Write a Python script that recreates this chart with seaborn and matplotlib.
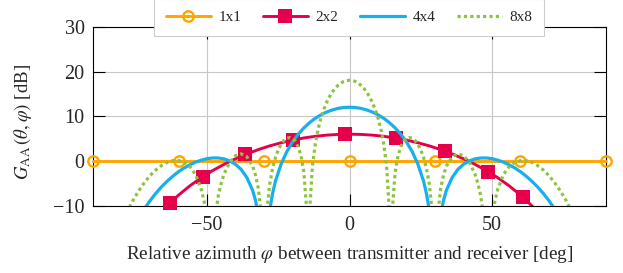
import matplotlib
matplotlib.use("Agg")
import matplotlib.pyplot as plt
import seaborn as sns
from matplotlib.lines import Line2D

# ---------------- data ----------------
# 1x1 array: flat 0 dB, circle markers every 30 deg
ang_1x1 = [-90, -60, -30, 0, 30, 60, 90]
gain_1x1 = [0, 0, 0, 0, 0, 0, 0]

# 2x2 array: smooth curve
ang_2x2 = [-66, -64, -62, -60, -56, -52, -48, -44, -40, -36, -32, -28, -24, -20, -16, -12, -8, -4,
           0, 4, 8, 12, 16, 20, 24, 28, 32, 36, 40, 44, 48, 52, 56, 60, 62, 64, 66]
gain_2x2 = [-11.33, -9.97, -8.72, -7.58, -5.49, -3.68, -2.09, -0.70, 0.54, 1.62, 2.58, 3.41, 4.11, 4.70,
            5.18, 5.55, 5.81, 5.97,
            6.02, 5.97, 5.81, 5.55, 5.18, 4.70, 4.11, 3.41, 2.58, 1.62, 0.54, -0.70, -2.09, -3.68,
            -5.49, -7.58, -8.72, -9.97, -11.33]
# 2x2 marker positions
ang_2x2_marks = [-63, -51.3, -36.7, -19.8, -1.6, 16.3, 33.5, 48.7, 60.8]
gain_2x2_marks = [-9.4, -3.5, 1.5, 4.7, 6.0, 5.15, 2.3, -2.4, -8.1]

# 4x4 array
ang_4x4 = [-90, -80, -76, -74, -72, -70, -68, -66, -64, -62, -60, -58, -56, -54, -52, -50, -48, -46,
           -44, -42, -40, -38, -36, -34, -33, -32, -31, -30, -29, -28, -27, -26, -24, -22, -20, -18,
           -16, -14, -12, -10, -8, -6, -4, -2,
           0, 2, 4, 6, 8, 10, 12, 14, 16, 18, 20, 22, 24, 26, 27, 28, 29, 30, 31, 32, 33, 34, 36,
           38, 40, 42, 44, 46, 48, 50, 52, 54, 56, 58, 60, 62, 64, 66, 68, 70, 72, 74, 76, 80, 90]
gain_4x4 = [-40, -20.4, -14.6, -12.35, -10.69, -8.83, -7.20, -5.75, -4.48, -3.35, -2.35, -1.51,
            -0.80, -0.22, 0.23, 0.56, 0.72, 0.71, 0.51, 0.05, -0.70, -1.86, -3.67, -6.50, -8.71,
            -11.96, -17.7, -40, -17.2, -10.97, -7.22, -4.49, -0.66, 2.13, 4.28, 6.01, 7.43, 8.60,
            9.57, 10.35, 10.97, 11.44, 11.78, 11.97,
            12.04, 11.97, 11.78, 11.44, 10.97, 10.35, 9.57, 8.60, 7.43, 6.01, 4.28, 2.13, -0.66,
            -4.49, -7.22, -10.97, -17.2, -40, -17.7, -11.96, -8.71, -6.50, -3.67, -1.86, -0.70,
            0.05, 0.51, 0.71, 0.72, 0.56, 0.23, -0.22, -0.80, -1.51, -2.35, -3.35, -4.48, -5.75,
            -7.20, -8.83, -10.69, -12.35, -14.6, -20.4, -40]

# 8x8 array
ang_8x8 = [-90, -84, -80, -78, -76, -74, -72, -70, -68, -66, -64, -62, -60, -58, -56, -54, -52,
           -51, -50, -48.6, -47, -46, -45, -44, -42, -40, -38, -36, -34, -33, -32, -31, -30, -29,
           -28, -27, -26, -25, -24, -23, -22, -21, -20, -19, -18, -17, -16, -15, -14.5, -14, -13,
           -12, -11, -10, -9, -8, -7, -6, -5, -4, -3, -2, -1,
           0, 1, 2, 3, 4, 5, 6, 7, 8, 9, 10, 11, 12, 13, 14, 14.5, 15, 16, 17, 18, 19, 20, 21, 22,
           23, 24, 25, 26, 27, 28, 29, 30, 31, 32, 33, 34, 36, 38, 40, 42, 44, 45, 46, 47, 48.6,
           50, 51, 52, 54, 56, 58, 60, 62, 64, 66, 68, 70, 72, 74, 76, 78, 80, 84, 90]
gain_8x8 = [-40, -23.2, -14.46, -11.30, -8.78, -6.65, -4.80, -3.23, -1.97, -0.98, -0.28, 0.11,
            0.14, -0.26, -1.23, -3.01, -6.30, -8.97, -13.40, -40, -11.93, -7.58, -4.84, -2.84,
            -0.18, 1.23, 1.63, 0.98, -1.11, -3.05, -6.09, -11.74, -40, -11.23, -5.10, -1.63, 0.78,
            2.55, 3.77, 4.63, 5.11, 5.26, 5.05, 4.44, 3.21, 1.13, -2.49, -11.09, -40, -11.26,
            -1.00, 3.92, 7.21, 9.66, 11.58, 13.13, 14.40, 15.44, 16.27, 16.94, 17.43, 17.79, 17.99,
            18.06, 17.99, 17.79, 17.43, 16.94, 16.27, 15.44, 14.40, 13.13, 11.58, 9.66, 7.21, 3.92,
            -1.00, -11.26, -40, -11.09, -2.49, 1.13, 3.21, 4.44, 5.05, 5.26, 5.11, 4.63, 3.77, 2.55,
            0.78, -1.63, -5.10, -11.23, -40, -11.74, -6.09, -3.05, -1.11, 0.98, 1.63, 1.23, -0.18,
            -2.84, -4.84, -7.58, -11.93, -40, -13.40, -8.97, -6.30, -3.01, -1.23, -0.26, 0.14, 0.11,
            -0.28, -0.98, -1.97, -3.23, -4.80, -6.65, -8.78, -11.30, -14.46, -23.2, -40]

labels = ["1x1", "2x2", "4x4", "8x8"]
x_ticks = [-50, 0, 50]
y_ticks = [-10, 0, 10, 20, 30]

# ---------------- style ----------------
C1, C2, C4, C8 = "#FFA500", "#E6004C", "#17AFEE", "#8CC43F"
sns.set_style("ticks")
plt.rcParams["font.family"] = ["Liberation Serif", "DejaVu Serif"]
plt.rcParams["mathtext.fontset"] = "stix"
plt.rcParams["axes.unicode_minus"] = True

fig = plt.figure(figsize=(6.23, 2.73), dpi=100)
ax = fig.add_axes([0.1493, 0.2454, 0.8234, 0.6568])

LW = 2.1
sns.lineplot(x=ang_1x1, y=gain_1x1, ax=ax, color=C1, lw=LW, marker="o", markersize=7.5,
             markerfacecolor="none", markeredgecolor=C1, markeredgewidth=1.7,
             estimator=None, sort=False, clip_on=False, zorder=3)
sns.lineplot(x=ang_2x2, y=gain_2x2, ax=ax, color=C2, lw=LW, estimator=None, sort=False, zorder=4)
sns.scatterplot(x=ang_2x2_marks, y=gain_2x2_marks, ax=ax, marker="s", s=90, color=C2,
                edgecolor=C2, linewidth=0, clip_on=False, zorder=4.5)
sns.lineplot(x=ang_4x4, y=gain_4x4, ax=ax, color=C4, lw=2.3, estimator=None, sort=False, zorder=5)
sns.lineplot(x=ang_8x8, y=gain_8x8, ax=ax, color=C8, lw=2.3, linestyle=(0, (1.0, 1.0)),
             estimator=None, sort=False, zorder=6)

ax.set_xlim(-90, 90)
ax.set_ylim(-10, 30)
ax.set_xticks(x_ticks)
ax.set_yticks(y_ticks)
ax.grid(True, color="#c8c8c8", lw=0.8)
ax.set_axisbelow(True)
for s in ax.spines.values():
    s.set_visible(True)
    s.set_color("black")
    s.set_linewidth(0.8)
ax.tick_params(direction="in", length=8.5, width=0.8, top=True, right=True,
               labelsize=14.5, pad=6, color="black")
ax.tick_params(axis="x", pad=7)

ax.set_xlabel(r"Relative azimuth $\varphi$ between transmitter and receiver [deg]",
              fontsize=13.8, labelpad=7)
ax.set_ylabel(r"$G_{\mathrm{AA}}\,(\theta,\varphi)$ [dB]", fontsize=13.5, labelpad=8)
ax.yaxis.set_label_coords(-0.115, 0.47)

handles = [
    Line2D([], [], color=C1, lw=LW, marker="o", markersize=7.5, markerfacecolor="none",
           markeredgecolor=C1, markeredgewidth=1.7),
    Line2D([], [], color=C2, lw=LW, marker="s", markersize=9.5, markeredgewidth=0),
    Line2D([], [], color=C4, lw=2.3),
    Line2D([], [], color=C8, lw=2.3, linestyle=(0, (1.0, 1.0))),
]
leg = ax.legend(handles, labels, loc="center", bbox_to_anchor=(0.499, 1.053), ncol=4,
                fontsize=11, frameon=True, fancybox=False, framealpha=1, edgecolor="#cccccc",
                handlelength=2.95, handletextpad=0.5, columnspacing=1.4, borderpad=0.75)
leg.get_frame().set_linewidth(0.8)
leg.set_zorder(10)

fig.savefig("out.png", dpi=100)
